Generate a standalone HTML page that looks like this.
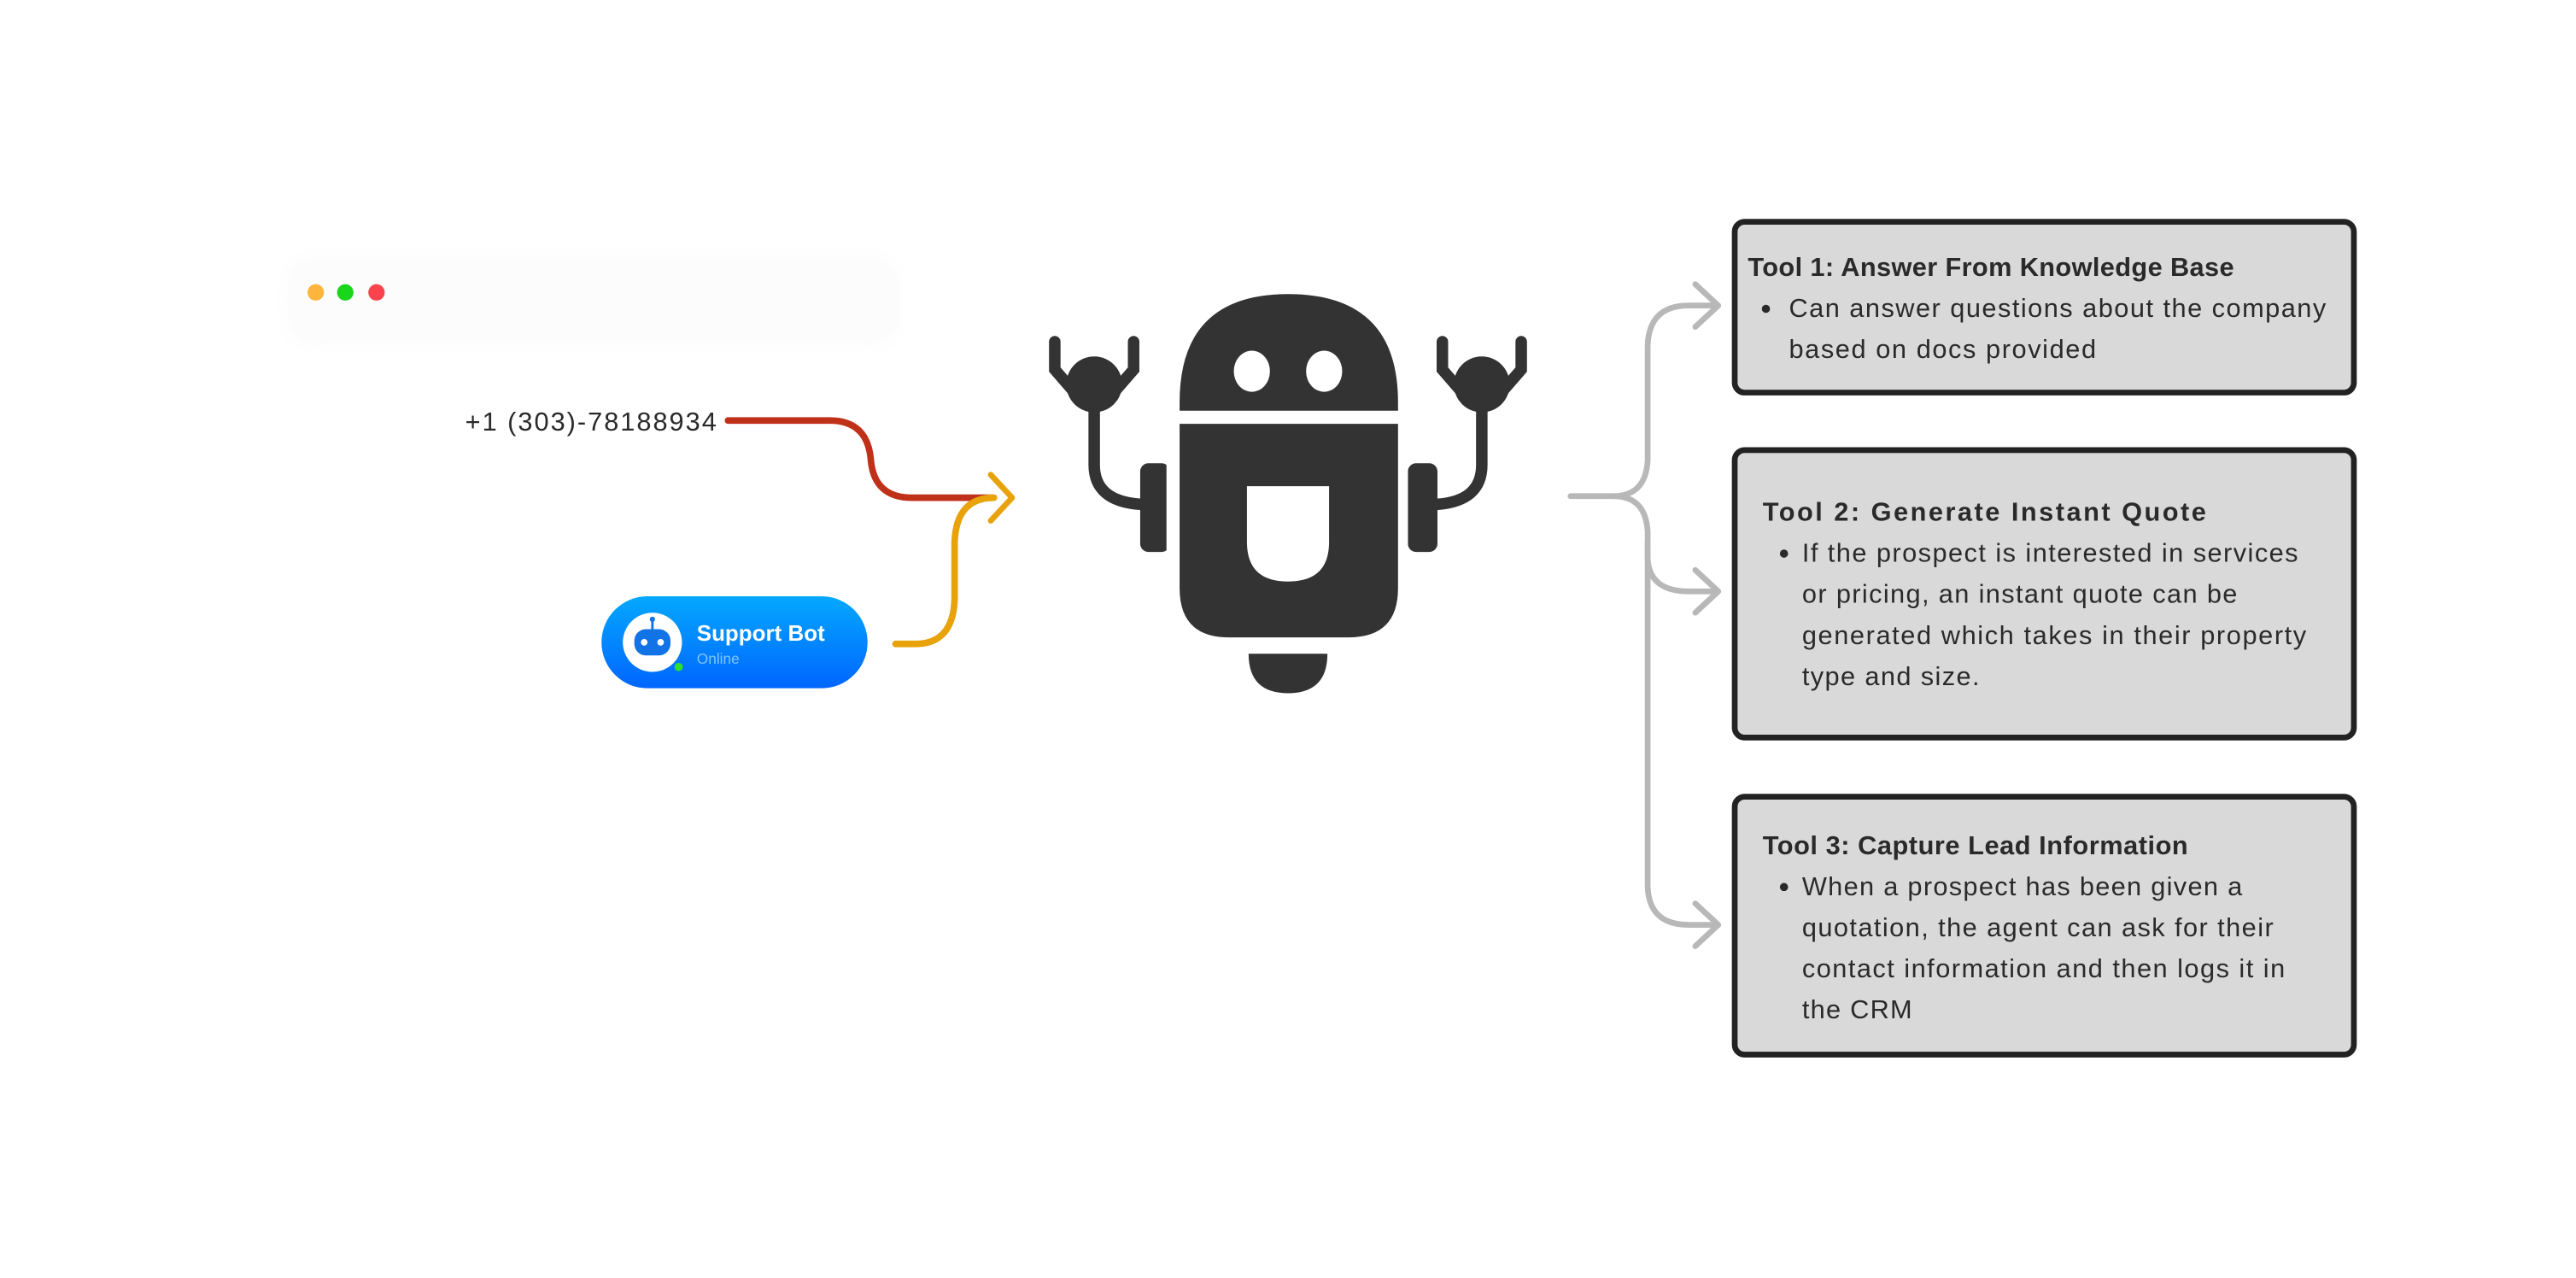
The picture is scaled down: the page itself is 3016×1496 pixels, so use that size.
<!DOCTYPE html>
<html><head><meta charset="utf-8"><style>
html,body{margin:0;padding:0;background:#fff;}
svg{display:block;}
text{font-family:"Liberation Sans",sans-serif;fill:#2a2a2a;}
</style></head><body>
<svg width="3016" height="1496" viewBox="0 0 1568 778" xmlns="http://www.w3.org/2000/svg">
<defs>
<linearGradient id="bg" x1="0" y1="0" x2="0" y2="1"><stop offset="0" stop-color="#05a8ff"/><stop offset="1" stop-color="#0066ff"/></linearGradient>
<filter id="sh" x="-20%" y="-50%" width="140%" height="200%"><feGaussianBlur stdDeviation="6"/></filter>
</defs>
<rect width="1568" height="778" fill="#fff"/>
<!-- window chrome -->
<rect x="178" y="160" width="366" height="46" rx="8" fill="#f3f3f3" filter="url(#sh)" opacity="0.5"/>
<rect x="178" y="160" width="366" height="46" rx="8" fill="#fcfcfc"/>
<circle cx="192" cy="178" r="5" fill="#fdb53b"/>
<circle cx="210" cy="178" r="5" fill="#1ad61a"/>
<circle cx="229" cy="178" r="5" fill="#f9444e"/>
<!-- phone -->
<text x="283" y="262" font-size="16" textLength="153" fill="#111">+1 (303)-78188934</text>
<!-- connectors -->
<path d="M443 256 H505 Q528 256 530 280 Q532 303 555 303 H604" fill="none" stroke="#c0311a" stroke-width="4" stroke-linecap="round"/>
<path d="M545 392 H557 Q580 392 581 365 V330 Q582 303 605 303" fill="none" stroke="#e8a20a" stroke-width="4" stroke-linecap="round"/>
<path d="M603 289 L616 303 L603 317" fill="none" stroke="#e8a20a" stroke-width="3.5" stroke-linecap="round" stroke-linejoin="round"/>
<!-- support bot pill -->
<rect x="366" y="363" width="162" height="56" rx="28" fill="url(#bg)"/>
<circle cx="397" cy="391" r="18" fill="#fff"/>
<rect x="386" y="383" width="22" height="16" rx="7" fill="#1273e6"/>
<circle cx="392" cy="391" r="2" fill="#fff"/><circle cx="402" cy="391" r="2" fill="#fff"/>
<line x1="397" y1="383" x2="397" y2="377" stroke="#1273e6" stroke-width="1.5"/><circle cx="397" cy="377" r="1.6" fill="#1273e6"/>
<circle cx="413" cy="406" r="2.5" fill="#2fe02f"/>
<text x="424" y="390" font-size="13.5" font-weight="bold" fill="#fff" style="fill:#fff" textLength="78">Support Bot</text>
<text x="424" y="404" font-size="9" style="fill:#7fc4ff">Online</text>
<!-- robot -->
<g fill="#333">
<path d="M718 250 V245 Q718 179 784 179 Q851 179 851 245 V250 Z"/>
<path d="M718 258 H851 V358 Q851 388 821 388 H748 Q718 388 718 358 Z"/>
<rect x="694" y="282" width="18" height="54" rx="5"/>
<rect x="857" y="282" width="18" height="54" rx="5"/>
<path d="M760 398 H808 Q808 422 784 422 Q760 422 760 398 Z"/>
<circle cx="666" cy="234" r="17"/>
<circle cx="902" cy="234" r="17"/>
</g>
<rect x="710" y="260" width="4" height="80" fill="#fff"/>
<rect x="853" y="260" width="4" height="80" fill="#fff"/>
<g fill="none" stroke="#333" stroke-width="7" stroke-linecap="round">
<path d="M642 208 V225 L655 240"/><path d="M690 208 V225 L677 240"/>
<path d="M878 208 V225 L891 240"/><path d="M926 208 V225 L913 240"/>
<path d="M666 245 V283 Q666 305 694 307"/>
<path d="M902 245 V283 Q902 305 875 307"/>
</g>
<g fill="#fff">
<ellipse cx="762" cy="226" rx="11" ry="12.5"/>
<ellipse cx="806" cy="226" rx="11" ry="12.5"/>
<path d="M759 296 H809 V330 Q809 354 784 354 Q759 354 759 330 Z"/>
</g>
<!-- gray brace -->
<g fill="none" stroke="#b8b8b8" stroke-width="3.5" stroke-linecap="round" stroke-linejoin="round">
<path d="M956 302 H982 Q1002 302 1003 280 V210 Q1004 186 1028 186 H1044"/>
<path d="M982 302 Q1002 302 1003 324 V340 Q1004 360 1028 360 H1044"/>
<path d="M1003 330 V540 Q1004 563 1028 563 H1044"/>
<path d="M1032 173 L1046 186 L1032 199"/>
<path d="M1032 347 L1046 360 L1032 373"/>
<path d="M1032 550 L1046 563 L1032 576"/>
</g>
<!-- boxes -->
<g fill="#d9d9d9" stroke="#222" stroke-width="3.5">
<rect x="1056" y="135" width="377" height="104" rx="6"/>
<rect x="1056" y="274" width="377" height="175" rx="6"/>
<rect x="1056" y="485" width="377" height="157" rx="6"/>
</g>
<g font-size="16">
<text x="1064" y="168" font-weight="bold" textLength="296">Tool 1: Answer From Knowledge Base</text>
<circle cx="1075" cy="188" r="2.5" fill="#2a2a2a"/>
<text x="1089" y="193" textLength="327">Can answer questions about the company</text>
<text x="1089" y="218" textLength="187">based on docs provided</text>

<text x="1073" y="317" font-weight="bold" textLength="270">Tool 2: Generate Instant Quote</text>
<circle cx="1086" cy="337" r="2.5" fill="#2a2a2a"/>
<text x="1097" y="342" textLength="302">If the prospect is interested in services</text>
<text x="1097" y="367" textLength="265">or pricing, an instant quote can be</text>
<text x="1097" y="392" textLength="307">generated which takes in their property</text>
<text x="1097" y="417" textLength="108">type and size.</text>

<text x="1073" y="520" font-weight="bold" textLength="259">Tool 3: Capture Lead Information</text>
<circle cx="1086" cy="540" r="2.5" fill="#2a2a2a"/>
<text x="1097" y="545" textLength="268">When a prospect has been given a</text>
<text x="1097" y="570" textLength="287">quotation, the agent can ask for their</text>
<text x="1097" y="595" textLength="294">contact information and then logs it in</text>
<text x="1097" y="620" textLength="67">the CRM</text>
</g>
</svg>
</body></html>
